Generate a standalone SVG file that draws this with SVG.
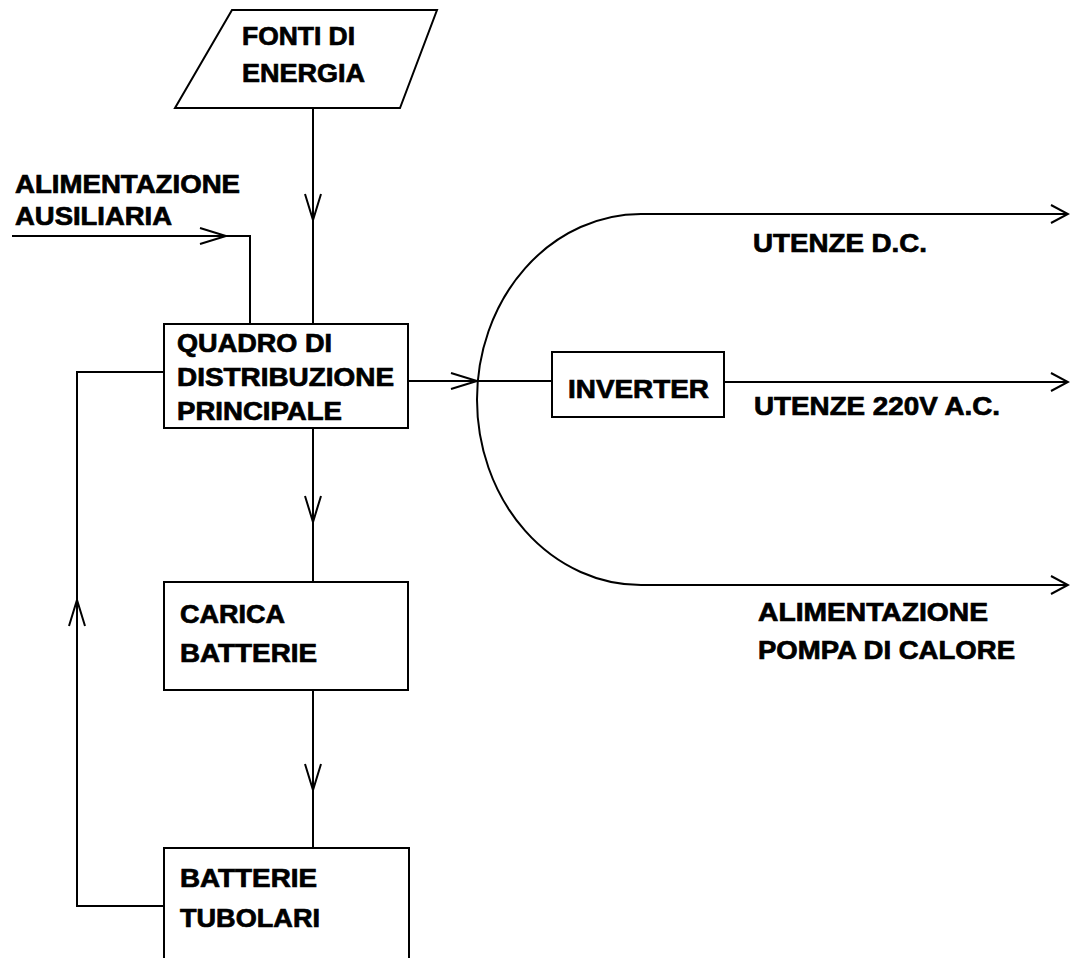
<svg xmlns="http://www.w3.org/2000/svg" width="1070" height="958" viewBox="0 0 1070 958">
<defs>
<style>
.t{font-family:"Liberation Sans",Arial,sans-serif;font-weight:bold;font-size:25px;fill:#000;stroke:#000;stroke-width:0.7}
.s{fill:#fff;stroke:#000;stroke-width:2}
.c{fill:none;stroke:#000;stroke-width:2}
</style>
<marker id="arr" markerUnits="userSpaceOnUse" orient="auto" markerWidth="40" markerHeight="40" refX="0" refY="0" style="overflow:visible">
<path d="M -26 -8 L 0 0 L -26 8" fill="none" stroke="#000" stroke-width="2"/>
</marker>
<marker id="arrS" markerUnits="userSpaceOnUse" orient="auto" markerWidth="40" markerHeight="40" refX="0" refY="0" style="overflow:visible">
<path d="M -17 -9 L 0 0 L -17 9" fill="none" stroke="#000" stroke-width="2"/>
</marker>
</defs>
<rect width="1070" height="958" fill="#fff"/>
<g id="connectors">
<path class="c" d="M 313 108 L 313 220" marker-end="url(#arr)"/>
<path class="c" d="M 313 220 L 313 324"/>
<path class="c" d="M 12 236 L 226 236" marker-end="url(#arr)"/>
<path class="c" d="M 226 236 L 250 236 L 250 324"/>
<path class="c" d="M 408 381 L 477 381" marker-end="url(#arr)"/>
<path class="c" d="M 477 381 L 552 381"/>
<path class="c" d="M 724 382 L 1068 382" marker-end="url(#arrS)"/>
<path class="c" d="M 641 214 A 164 185.5 0 0 0 641 585"/>
<path class="c" d="M 641 214 L 1068 214" marker-end="url(#arrS)"/>
<path class="c" d="M 641 585 L 1068 585" marker-end="url(#arrS)"/>
<path class="c" d="M 313 428 L 313 522" marker-end="url(#arr)"/>
<path class="c" d="M 313 522 L 313 582"/>
<path class="c" d="M 313 690 L 313 790" marker-end="url(#arr)"/>
<path class="c" d="M 313 790 L 313 848"/>
<path class="c" d="M 164 906 L 77 906 L 77 600" marker-end="url(#arr)"/>
<path class="c" d="M 77 600 L 77 372 L 164 372"/>
</g>
<g id="fonti">
<polygon class="s" points="232,10 437,10 400,108 175,108"/>
<text class="t" x="242" y="45" textLength="113" lengthAdjust="spacingAndGlyphs">FONTI DI</text>
<text class="t" x="242" y="82" textLength="123" lengthAdjust="spacingAndGlyphs">ENERGIA</text>
</g>
<g id="aux-label">
<text class="t" x="15" y="193" textLength="225" lengthAdjust="spacingAndGlyphs">ALIMENTAZIONE</text>
<text class="t" x="15" y="225" textLength="157" lengthAdjust="spacingAndGlyphs">AUSILIARIA</text>
</g>
<g id="quadro">
<rect class="s" x="164" y="324" width="244" height="104"/>
<text class="t" x="177" y="352" textLength="155" lengthAdjust="spacingAndGlyphs">QUADRO DI</text>
<text class="t" x="177" y="386" textLength="217" lengthAdjust="spacingAndGlyphs">DISTRIBUZIONE</text>
<text class="t" x="177" y="420" textLength="165" lengthAdjust="spacingAndGlyphs">PRINCIPALE</text>
</g>
<g id="inverter">
<rect class="s" x="552" y="352" width="172" height="65"/>
<text class="t" x="568" y="398" textLength="141" lengthAdjust="spacingAndGlyphs">INVERTER</text>
</g>
<g id="carica">
<rect class="s" x="164" y="582" width="244" height="108"/>
<text class="t" x="180" y="623" textLength="105" lengthAdjust="spacingAndGlyphs">CARICA</text>
<text class="t" x="180" y="662" textLength="137" lengthAdjust="spacingAndGlyphs">BATTERIE</text>
</g>
<g id="batterie">
<rect class="s" x="164" y="848" width="245" height="130"/>
<text class="t" x="180" y="887" textLength="137" lengthAdjust="spacingAndGlyphs">BATTERIE</text>
<text class="t" x="180" y="927" textLength="140" lengthAdjust="spacingAndGlyphs">TUBOLARI</text>
</g>
<g id="outputs">
<text class="t" x="753" y="252" textLength="174" lengthAdjust="spacingAndGlyphs">UTENZE D.C.</text>
<text class="t" x="754" y="415" textLength="246" lengthAdjust="spacingAndGlyphs">UTENZE 220V A.C.</text>
<text class="t" x="758" y="621" textLength="230" lengthAdjust="spacingAndGlyphs">ALIMENTAZIONE</text>
<text class="t" x="758" y="659" textLength="257" lengthAdjust="spacingAndGlyphs">POMPA DI CALORE</text>
</g>
</svg>
